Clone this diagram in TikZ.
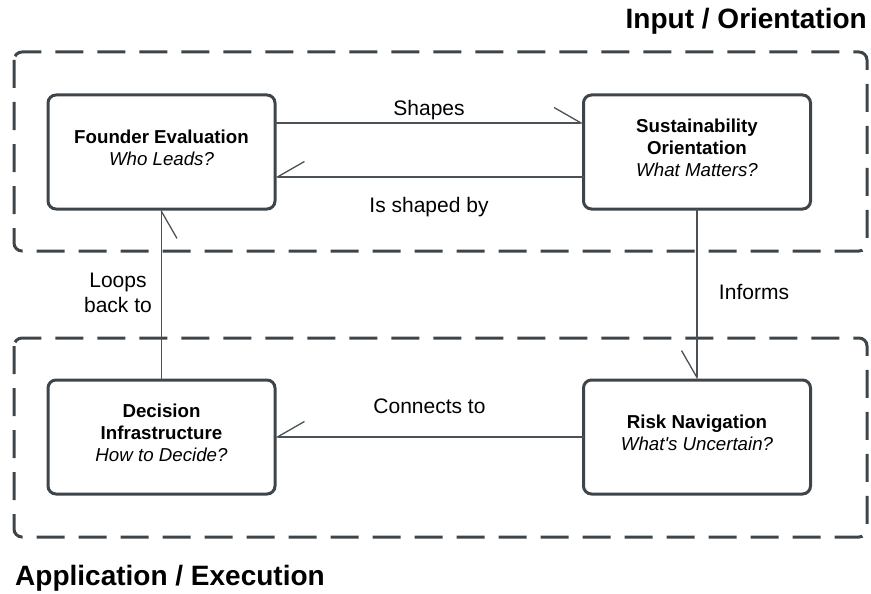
\documentclass[tikz,border=0pt]{standalone}
\usepackage{fontspec}
\setmainfont{Liberation Sans}
\usetikzlibrary{arrows.meta}
\definecolor{lc}{HTML}{3D454A}
\definecolor{ac}{HTML}{4A5257}
\begin{document}
\begin{tikzpicture}[x=1pt,y=-1pt,
  group/.style={draw=lc, line width=3pt, rounded corners=8pt, dash pattern=on 28pt off 14pt},
  box/.style={draw=lc, line width=3pt, rounded corners=8pt, minimum width=227pt, minimum height=114pt,
    align=center, inner sep=0pt, outer sep=0pt, text depth=9pt, font=\fontsize{18.7}{22}\selectfont},
  lbl/.style={inner sep=0pt, font=\fontsize{21}{25}\selectfont},
  title/.style={inner sep=0pt, font=\fontsize{28}{32}\selectfont\bfseries},
  arr/.style={draw=ac, line width=1.3pt, -{Straight Barb[harpoon,length=27pt,width=31pt]}},
  arrs/.style={draw=ac, line width=1.3pt, -{Straight Barb[harpoon,swap,length=27pt,width=31pt]}}
]
\useasboundingbox (0,0) rectangle (871,594);
\draw[group] (14,52) rectangle (867,251);
\draw[group] (14,338) rectangle (867,537);
\node[title, anchor=base east] (t1) at (867,29) {Input / Orientation};
\node[title, anchor=base west] (t2) at (15,585) {Application / Execution};
\node[box] (F) at (161.5,152) {{\bfseries Founder Evaluation}\\\textit{Who Leads?}};
\node[box] (S) at (697,152) {{\bfseries Sustainability}\\{\bfseries Orientation}\\\textit{What Matters?}};
\node[box] (D) at (161.5,437) {{\bfseries Decision}\\{\bfseries Infrastructure}\\\textit{How to Decide?}};
\node[box] (R) at (697,437) {{\bfseries Risk Navigation}\\\textit{What\textquotesingle s Uncertain?}};
\draw[arr] ([yshift=29pt]F.east) -- ([yshift=29pt]S.west);
\draw[arrs] ([yshift=-25pt]S.west) -- ([yshift=-25pt]F.east);
\draw[arrs] (S.south) -- (R.north);
\draw[arrs] (R.west) -- (D.east);
\draw[arrs] (D.north) -- (F.south);
\node[lbl, anchor=base] (l1) at (429,115) {Shapes};
\node[lbl, anchor=base] (l2) at (429,212) {Is shaped by};
\node[lbl, anchor=base] (l3) at (754,299) {Informs};
\node[lbl, anchor=base] (l4) at (429.5,413) {Connects to};
\node[lbl, anchor=base, align=center] (l5) at (118,312) {Loops\\back to};
\end{tikzpicture}
\end{document}
